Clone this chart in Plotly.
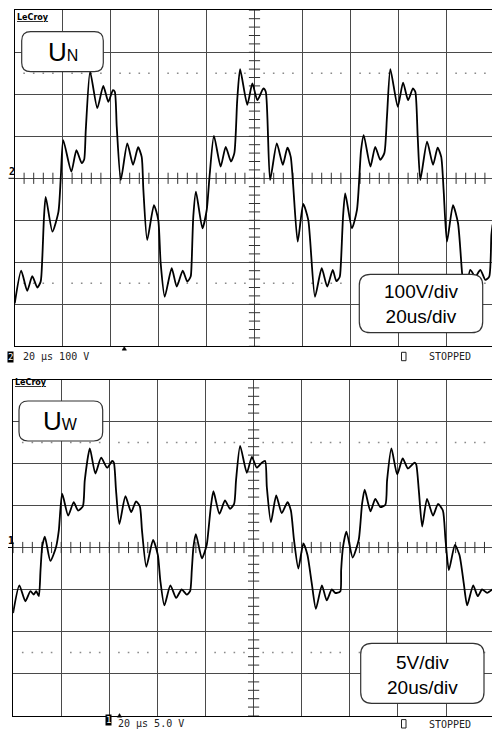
import numpy as np
import plotly.graph_objects as go

# ---------------- data ----------------
# Top trace: U_N, time in microseconds, voltage in volts (100 V/div)
top_time = [0.1, 2.8, 5.3, 7.4, 9.5, 10.9, 11.6, 12.3, 13.0, 15.8,
            18.3, 19.3, 20.3, 23.7, 25.8, 28.0, 29.0, 29.7, 31.5, 34.5,
            37.0, 39.1, 41.0, 41.8, 42.6, 44.3, 47.0, 49.4, 51.5, 53.0,
            53.7, 55.3, 58.1, 59.9, 60.9, 62.6, 65.5, 67.6, 70.1, 72.0,
            73.4, 73.8, 74.5, 75.6, 78.3, 80.1, 81.2, 83.1, 85.9, 88.0,
            90.2, 91.6, 92.8, 94.0, 97.0, 99.1, 101.2, 103.7, 104.7, 106.5,
            109.3, 111.8, 113.7, 115.1, 118.0, 120.3, 122.4, 125.2, 128.0, 130.3,
            132.6, 134.1, 135.5, 136.0, 136.9, 137.8, 140.6, 142.7, 144.4, 145.5,
            148.3, 150.3, 152.4, 154.1, 155.2, 156.6, 159.7, 161.9, 164.0, 166.0,
            167.0, 168.0, 169.1, 171.9, 174.4, 176.3, 177.8, 178.8, 180.2, 182.7,
            184.8, 186.5, 187.7, 189.9, 192.0, 194.1, 196.2, 197.8, 198.7, 199.2]
top_volt = [-298, -220, -268, -233, -260, -246, -187, -91, -44, -127,
            -80, 4, 91, 16, 67, 36, 44, 115, 254, 167,
            220, 182, 210, 206, 123, -4, 83, 32, 74, 51,
            -28, -147, -64, -99, -202, -282, -214, -258, -220, -246,
            -234, -202, -91, -32, -119, -75, 0, 101, 28, 75,
            40, 60, 186, 260, 175, 226, 186, 214, 206, -4,
            83, 32, 73, 51, -151, -61, -99, -282, -214, -258,
            -218, -245, -235, -202, -91, -36, -119, -75, 67, 103,
            28, 75, 44, 60, 147, 260, 170, 228, 186, 214,
            206, 99, -4, 87, 32, 73, 51, -28, -151, -64,
            -107, -226, -282, -218, -234, -218, -242, -234, -135, -110]

# Bottom trace: U_W, time in microseconds, voltage in volts (5 V/div)
bot_time = [0.0, 2.6, 5.1, 7.2, 8.6, 9.6, 10.7, 11.4, 12.1, 13.2,
            15.5, 17.9, 19.0, 20.4, 22.9, 25.2, 27.0, 29.0, 29.8, 31.9,
            34.2, 36.6, 39.1, 41.2, 41.9, 42.8, 44.2, 46.7, 49.1, 51.1,
            52.7, 53.6, 55.4, 58.2, 60.2, 61.2, 62.9, 65.4, 67.8, 70.1,
            72.2, 73.6, 74.3, 75.0, 76.0, 78.5, 80.5, 81.2, 82.2, 83.3,
            85.8, 88.1, 90.2, 91.9, 92.7, 94.4, 97.2, 99.3, 101.3, 103.4,
            104.8, 105.5, 107.2, 109.4, 111.7, 114.1, 115.5, 116.8, 118.6, 120.7,
            122.4, 124.2, 125.9, 128.4, 130.4, 132.5, 133.9, 134.7, 136.1, 136.4,
            137.2, 138.6, 141.2, 143.7, 144.4, 145.1, 146.2, 148.6, 150.6, 152.7,
            154.8, 155.5, 157.3, 159.7, 162.0, 164.2, 166.9, 167.6, 168.7, 170.1,
            172.1, 174.6, 176.7, 178.7, 179.8, 181.2, 183.7, 185.6, 187.4, 188.8,
            191.3, 193.2, 195.0, 197.1, 199.2]
bot_volt = [-7.8, -4.5, -6.4, -5.2, -5.6, -5.2, -5.8, -2.7, 0.1, 1.3,
            -1.6, 0.1, 2.0, 6.4, 3.8, 5.4, 4.4, 4.9, 8.0, 11.8,
            8.8, 10.7, 9.5, 10.3, 10.1, 6.8, 2.8, 6.1, 4.2, 5.5,
            4.9, 2.0, -2.3, 0.9, -0.9, -3.9, -6.9, -4.5, -6.0, -5.0,
            -5.6, -5.2, -2.7, 0.1, 1.6, -1.3, 0.3, 2.0, 4.8, 6.7,
            4.0, 5.6, 4.6, 5.2, 8.0, 12.1, 8.9, 10.8, 9.5, 10.1,
            10.3, 7.2, 3.0, 6.2, 4.1, 5.4, 4.4, 0.9, -2.5, 0.5,
            -0.9, -4.3, -7.3, -4.5, -6.3, -5.0, -5.4, -5.4, -5.2, -2.7,
            0.1, 1.9, -1.2, 0.9, 2.8, 5.2, 6.9, 4.3, 5.8, 4.8,
            5.1, 8.0, 11.8, 8.7, 10.6, 9.4, 10.1, 9.9, 6.8, 2.5,
            5.8, 3.8, 5.2, 4.4, 0.9, -2.7, 0.3, -0.9, -4.3, -6.9,
            -4.5, -5.8, -5.0, -5.4, -5.0]

# scope settings / labels
time_per_div = 20          # us/div (both channels)
top_volts_per_div = 100    # V/div
bot_volts_per_div = 5      # V/div
n_xdiv, n_ydiv = 10, 8
top_name = ("U", "N")
bot_name = ("U", "W")
top_scale_text = ["100V/div", "20us/div"]
bot_scale_text = ["5V/div", "20us/div"]
top_footer = "20 \u03bcs 100 V"
bot_footer = "20 \u03bcs 5.0 V"
status_text = "STOPPED"

# ---------------- layout helpers ----------------
W, H = 492, 731
def PX(x):
    return x / W
def PY(y):
    return 1 - y / H

GRID = "#4a4a4a"
MONO = "DejaVu Sans Mono"
SANS = "Liberation Sans, Arial, sans-serif"

# panel geometry (pixels)
top_left, top_div_x, top_top, top_div_y = 14.5, 48.0, 10.3, 42.0
bot_left, bot_div_x, bot_top, bot_div_y = 13.1, 48.1, 379.5, 42.0

top_xmax = (W - top_left) / top_div_x * time_per_div
bot_xmax = (W - bot_left) / bot_div_x * time_per_div

fig = go.Figure()

def add_panel(xa, ya, vdiv, t, v):
    xref = "x" if xa == 1 else "x%d" % xa
    yref = "y" if ya == 1 else "y%d" % ya
    half = n_ydiv / 2 * vdiv
    # dotted lines at +/- 2.5 div
    minor_t = np.arange(0, 200, time_per_div / 5)
    dots_t = [m for m in minor_t if abs(m / time_per_div - round(m / time_per_div)) > 1e-6]
    for lvl in (2.5 * vdiv, -2.5 * vdiv):
        fig.add_trace(go.Scatter(x=dots_t, y=[lvl] * len(dots_t), mode="markers",
                                 marker=dict(symbol="square", size=1.6, color="#8a8a8a",
                                             line=dict(width=0)),
                                 xaxis=xref, yaxis=yref, hoverinfo="skip", showlegend=False))
    # center-line minor ticks
    fig.add_trace(go.Scatter(x=minor_t, y=[0] * len(minor_t), mode="markers",
                             marker=dict(symbol="line-ns", size=8,
                                         line=dict(width=1, color="#333333")),
                             xaxis=xref, yaxis=yref, hoverinfo="skip", showlegend=False))
    minor_v = np.arange(-half, half + 1e-9, vdiv / 5)
    fig.add_trace(go.Scatter(x=[n_xdiv / 2 * time_per_div] * len(minor_v), y=minor_v,
                             mode="markers",
                             marker=dict(symbol="line-ew", size=8,
                                         line=dict(width=1, color="#333333")),
                             xaxis=xref, yaxis=yref, hoverinfo="skip", showlegend=False))
    # waveform
    fig.add_trace(go.Scatter(x=t, y=v, mode="lines",
                             line=dict(color="black", width=1.8, shape="spline",
                                       smoothing=0.6),
                             xaxis=xref, yaxis=yref, hoverinfo="skip", showlegend=False))

add_panel(1, 1, top_volts_per_div, top_time, top_volt)
add_panel(2, 2, bot_volts_per_div, bot_time, bot_volt)

axis_common = dict(showgrid=True, gridcolor=GRID, gridwidth=1, zeroline=False,
                   showticklabels=False, ticks="", showline=True, linecolor="black",
                   linewidth=1, fixedrange=True)

top_ybottom = top_top + n_ydiv * top_div_y
bot_ybottom = bot_top + n_ydiv * bot_div_y

fig.update_layout(
    width=W, height=H, margin=dict(l=0, r=0, t=0, b=0),
    paper_bgcolor="white", plot_bgcolor="white", showlegend=False,
    xaxis=dict(axis_common, domain=[PX(top_left), 1], range=[0, top_xmax],
               tick0=0, dtick=time_per_div, mirror=True, anchor="y"),
    yaxis=dict(axis_common, domain=[PY(top_ybottom), PY(top_top)],
               range=[-n_ydiv / 2 * top_volts_per_div, n_ydiv / 2 * top_volts_per_div],
               tick0=0, dtick=top_volts_per_div, anchor="x"),
    xaxis2=dict(axis_common, domain=[PX(bot_left), 1], range=[0, bot_xmax],
                tick0=0, dtick=time_per_div, mirror=True, anchor="y2"),
    yaxis2=dict(axis_common, domain=[PY(bot_ybottom), PY(bot_top)],
                range=[-n_ydiv / 2 * bot_volts_per_div, n_ydiv / 2 * bot_volts_per_div],
                tick0=0, dtick=bot_volts_per_div, anchor="x2"),
)

# ---------------- decorations ----------------
def rounded_box(x0, y0, x1, y1, r):
    rx, ry = r / W, r / H
    X0, X1 = PX(x0), PX(x1)
    Y0, Y1 = PY(y0), PY(y1)   # Y0 top, Y1 bottom (paper)
    path = (f"M {X0+rx},{Y0} L {X1-rx},{Y0} Q {X1},{Y0} {X1},{Y0-ry} "
            f"L {X1},{Y1+ry} Q {X1},{Y1} {X1-rx},{Y1} "
            f"L {X0+rx},{Y1} Q {X0},{Y1} {X0},{Y1+ry} "
            f"L {X0},{Y0-ry} Q {X0},{Y0} {X0+rx},{Y0} Z")
    fig.add_shape(type="path", path=path, xref="paper", yref="paper",
                  line=dict(color="#333333", width=1.2), fillcolor="white", layer="above")

rounded_box(21.7, 31.7, 103.3, 71.7, 9)
rounded_box(19.0, 401.0, 102.7, 441.0, 9)
rounded_box(359.3, 274.3, 482.7, 332.7, 11)
rounded_box(360.7, 643.3, 484.0, 703.3, 11)

# small hollow status squares
for yc in (356.5, 723.8):
    fig.add_shape(type="rect", xref="paper", yref="paper",
                  x0=PX(401.5), x1=PX(406.0), y0=PY(yc - 4.2), y1=PY(yc + 4.2),
                  line=dict(color="#222222", width=1), fillcolor="white", layer="above")

# trigger-position triangles (small filled paths)
def tri(xc, ytop, w=2.2, h=3.6):
    path = (f"M {PX(xc)},{PY(ytop)} L {PX(xc + w)},{PY(ytop + h)} "
            f"L {PX(xc - w)},{PY(ytop + h)} Z")
    fig.add_shape(type="path", path=path, xref="paper", yref="paper",
                  line=dict(color="black", width=0.5), fillcolor="black", layer="above")

tri(124.3, 346.6)
tri(119.5, 713.6)

# channel level markers (short line left of the panel)
fig.add_shape(type="line", xref="paper", yref="paper", x0=PX(8.5), x1=PX(top_left),
              y0=PY(top_top + 4 * top_div_y), y1=PY(top_top + 4 * top_div_y),
              line=dict(color="black", width=1))
fig.add_shape(type="line", xref="paper", yref="paper", x0=PX(8.0), x1=PX(bot_left),
              y0=PY(bot_top + 4 * bot_div_y), y1=PY(bot_top + 4 * bot_div_y),
              line=dict(color="black", width=1))

def ann(text, x, y, size, family=SANS, color="black", xanchor="center", **kw):
    fig.add_annotation(text=text, x=PX(x), y=PY(y), xref="paper", yref="paper",
                       showarrow=False, xanchor=xanchor, yanchor="middle",
                       font=dict(size=size, family=family, color=color), **kw)

# LeCroy logos
ann("<b><u>LeCroy</u></b>", 15.0, 18.0, 8, family="DejaVu Sans", xanchor="left")
ann("<b><u>LeCroy</u></b>", 13.2, 383.0, 8, family="DejaVu Sans", xanchor="left")

# signal names
ann(f"{top_name[0]}<span style='font-size:16px'>{top_name[1]}</span>", 62.5, 51.5, 26)
ann(f"{bot_name[0]}<span style='font-size:16px'>{bot_name[1]}</span>", 60.8, 420.8, 26)

# scale boxes
ann("<br>".join(top_scale_text), 421.0, 304.0, 19)
ann("<br>".join(bot_scale_text), 422.3, 674.5, 19)

# channel markers at left
ann("<b>2</b>", 12.0, 171.0, 10, family=MONO)
ann("<b>1</b>", 11.0, 540.0, 10, family=MONO)

# footers
ann("2", 10.8, 356.8, 9, family=MONO, color="white", bgcolor="black", borderpad=0)
ann(top_footer, 20.5, 356.8, 10, family=MONO, color="#222222", xanchor="left")
ann(status_text, 426.5, 356.8, 10, family=MONO, color="#222222", xanchor="left")

ann("1", 108.0, 720.0, 9, family=MONO, color="white", bgcolor="black", borderpad=0)
ann(bot_footer, 115.5, 723.0, 10, family=MONO, color="#222222", xanchor="left")
ann(status_text, 426.5, 724.0, 10, family=MONO, color="#222222", xanchor="left")

fig.write_html("out.html",
               config={"displayModeBar": False, "staticPlot": True},
               post_script="document.body.style.margin='0';document.body.style.padding='0';")
